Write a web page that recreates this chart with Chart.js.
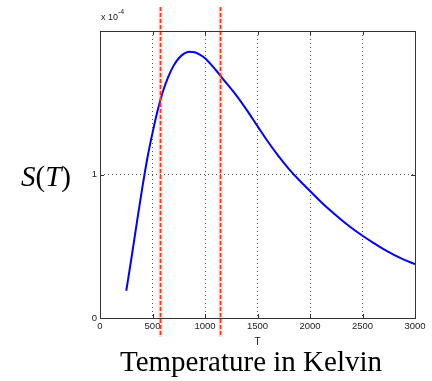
<!DOCTYPE html>
<html>
<head>
<meta charset="utf-8">
<script src="https://cdn.jsdelivr.net/npm/chart.js@4"></script>
<style>
  html, body { margin: 0; padding: 0; background: #fff; }
  #wrap { position: relative; width: 432px; height: 381px; }
  canvas { position: absolute; left: 0; top: 0; }
  .lbl { position: absolute; color: #000; white-space: nowrap; }
  #ylab { left: 21px; top: 158px; font-family: "Liberation Serif", "Times New Roman", serif; font-size: 29px; line-height: 36px; }
  #xlab { left: 0; width: 502px; text-align: center; top: 344px; font-family: "Liberation Serif", "Times New Roman", serif; font-size: 29px; line-height: 34px; }
  #mult { left: 101px; top: 10px; font-family: "Liberation Sans", Arial, sans-serif; font-size: 9px; color: #222; }
  #mult sup { font-size: 7px; position: relative; top: -2px; }
</style>
</head>
<body>
<div id="wrap">
  <canvas id="c" width="432" height="381"></canvas>
  <div class="lbl" id="mult">x 10<sup>-4</sup></div>
  <div class="lbl" id="ylab"><i>S</i>(<i>T</i>)</div>
  <div class="lbl" id="xlab">Temperature in Kelvin</div>
</div>
<script>
// Data (S in units of 1e-4)
const temps = [250, 300, 350, 400, 450, 500, 550, 600, 650, 700, 750, 800, 850, 900, 950, 1000, 1100, 1200, 1300, 1400, 1500, 1600, 1700, 1800, 1900, 2000, 2100, 2200, 2300, 2400, 2500, 2600, 2700, 2800, 2900, 3000];
const sValues = [0.19, 0.42, 0.66, 0.895, 1.11, 1.29, 1.45, 1.58, 1.68, 1.757, 1.81, 1.842, 1.855, 1.852, 1.835, 1.81, 1.73, 1.64, 1.55, 1.447, 1.337, 1.228, 1.128, 1.038, 0.958, 0.885, 0.812, 0.745, 0.683, 0.625, 0.573, 0.525, 0.48, 0.44, 0.405, 0.375];
const markerTemps = [573, 1140];
const xTicks = [0, 500, 1000, 1500, 2000, 2500, 3000];
const yTicks = [0, 1, 2];
const yTickLabels = ['0', '1', ''];

const points = temps.map((t, i) => ({ x: t, y: sValues[i] }));

const boxPlugin = {
  id: 'box',
  afterDraw(chart) {
    const { ctx, chartArea: a, scales } = chart;
    ctx.save();
    ctx.strokeStyle = '#333';
    ctx.lineWidth = 1;
    ctx.strokeRect(Math.round(a.left) + 0.5, Math.round(a.top) + 0.5, Math.round(a.right - a.left), Math.round(a.bottom - a.top));
    ctx.beginPath();
    scales.x.ticks.forEach(tk => {
      const px = Math.round(scales.x.getPixelForValue(tk.value)) + 0.5;
      ctx.moveTo(px, a.bottom); ctx.lineTo(px, a.bottom - 4);
      ctx.moveTo(px, a.top); ctx.lineTo(px, a.top + 4);
    });
    scales.y.ticks.forEach(tk => {
      const py = Math.round(scales.y.getPixelForValue(tk.value)) + 0.5;
      ctx.moveTo(a.left, py); ctx.lineTo(a.left + 4, py);
      ctx.moveTo(a.right, py); ctx.lineTo(a.right - 4, py);
    });
    ctx.stroke();
    ctx.restore();
  }
};

const markerPlugin = {
  id: 'markers',
  afterDatasetsDraw(chart) {
    const { ctx, scales } = chart;
    ctx.save();
    markerTemps.forEach(t => {
      const px = Math.round(scales.x.getPixelForValue(t)) + 0.5;
      ctx.strokeStyle = 'rgba(255,90,60,0.22)';
      ctx.lineWidth = 4;
      ctx.setLineDash([]);
      ctx.beginPath(); ctx.moveTo(px, 7); ctx.lineTo(px, 337); ctx.stroke();
      ctx.strokeStyle = '#ff3018';
      ctx.lineWidth = 1.6;
      ctx.setLineDash([4, 2]);
      ctx.beginPath(); ctx.moveTo(px, 7); ctx.lineTo(px, 337); ctx.stroke();
    });
    ctx.restore();
  }
};

new Chart(document.getElementById('c'), {
  type: 'line',
  data: {
    datasets: [{
      data: points,
      borderColor: '#0000ff',
      borderWidth: 2,
      pointRadius: 0,
      fill: false,
      cubicInterpolationMode: 'monotone'
    }]
  },
  options: {
    responsive: false,
    animation: false,
    plugins: { legend: { display: false }, tooltip: { enabled: false } },
    layout: { padding: { left: 80, right: 17, top: 31, bottom: 33 } },
    scales: {
      x: {
        type: 'linear',
        min: 0, max: 3000,
        afterBuildTicks: s => { s.ticks = xTicks.map(v => ({ value: v })); },
        afterFit: s => { s.height = 30; },
        ticks: { color: '#222', font: { family: 'Liberation Sans, Arial, sans-serif', size: 9.5 }, padding: 3, maxRotation: 0, callback: v => String(v) },
        grid: { color: '#555', lineWidth: 1, drawTicks: false },
        border: { display: false, dash: [1, 3] },
        title: { display: true, text: 'T', color: '#222', font: { family: 'Liberation Sans, Arial, sans-serif', size: 10 }, padding: { top: 2, bottom: 0 } }
      },
      y: {
        type: 'linear',
        min: 0, max: 2,
        afterBuildTicks: s => { s.ticks = yTicks.map(v => ({ value: v })); },
        afterFit: s => { s.width = 20; },
        ticks: {
          color: '#222', font: { family: 'Liberation Sans, Arial, sans-serif', size: 9.5 }, padding: 3,
          callback: (v) => yTickLabels[yTicks.indexOf(v)]
        },
        grid: { color: '#555', lineWidth: 1, drawTicks: false },
        border: { display: false, dash: [1, 3] }
      }
    }
  },
  plugins: [markerPlugin, boxPlugin]
});
</script>
</body>
</html>
